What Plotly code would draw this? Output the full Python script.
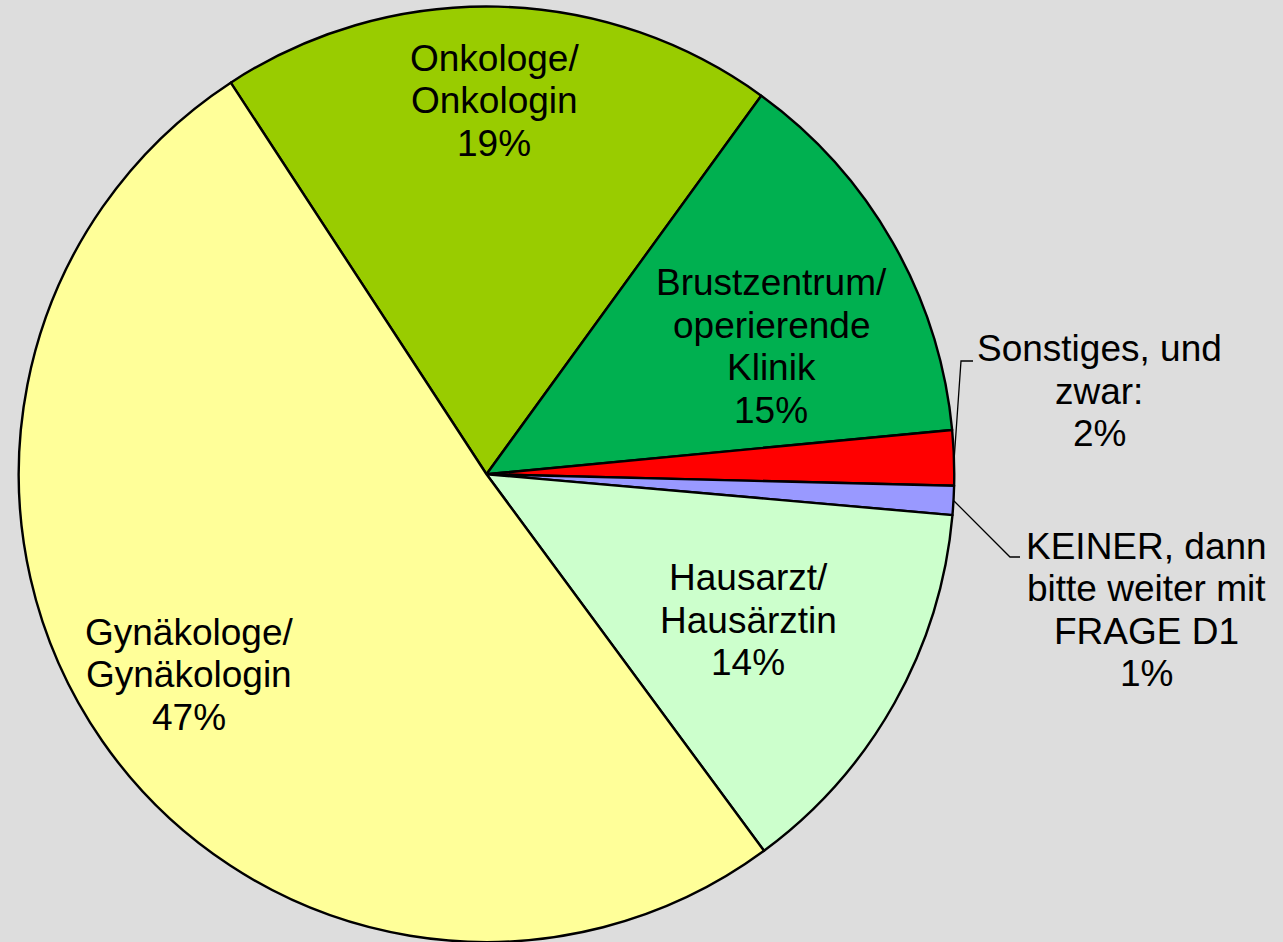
import math
import plotly.graph_objects as go

# ---- data ----
categories = [
    "Onkologe/<br>Onkologin",
    "Brustzentrum/<br>operierende<br>Klinik",
    "Sonstiges, und<br>zwar:",
    "KEINER, dann<br>bitte weiter mit<br>FRAGE D1",
    "Hausarzt/<br>Hausärztin",
    "Gynäkologe/<br>Gynäkologin",
]
# slice sizes as drawn
shares = [19.2, 13.5, 1.9, 1.0, 13.5, 50.9]
# percentages printed on the chart
pct_labels = ["19%", "15%", "2%", "1%", "14%", "47%"]
colors = ["#99CC00", "#00B050", "#FF0000", "#9999FF", "#CCFFCC", "#FFFF99"]

W, H = 1283, 942
CX, CY, R = 486.5, 474.5, 468.0
start_angle = -33.15  # degrees clockwise from 12 o'clock

# label block centres (pixels) and leader-line elbows
label_pos = [(494, 101), (771, 346.5), (1099, 391), (1146, 610), (748, 620), (189, 674.5)]
leader = {2: [(961, 361), (973, 361)], 3: [(1010, 557), (1020, 557)]}
LINE_H = 42.5
FONT = dict(family="Liberation Sans, Arial, sans-serif", size=37, color="black")

fig = go.Figure(go.Pie(
    labels=[c.replace("<br>", " ") for c in categories],
    values=shares,
    sort=False,
    direction="clockwise",
    rotation=start_angle,
    marker=dict(colors=colors, line=dict(color="black", width=2.4)),
    textinfo="none",
    hoverinfo="label+percent",
    showlegend=False,
    domain=dict(x=[(CX - R) / W, (CX + R) / W], y=[0, 1 - (CY - R) / H]),
))

def px(x, y):
    return x / W, 1 - y / H

annotations = []
for i, (cat, pct) in enumerate(zip(categories, pct_labels)):
    lines = cat.split("<br>") + [pct]
    cx, cy = label_pos[i]
    n = len(lines)
    for j, ln in enumerate(lines):
        y = cy + (j - (n - 1) / 2) * LINE_H
        xx, yy = px(cx, y)
        annotations.append(dict(x=xx, y=yy, xref="paper", yref="paper", text=ln,
                                showarrow=False, xanchor="center", yanchor="middle",
                                font=FONT))

# leader lines starting at the slice mid-angle on the rim
shapes = []
total = sum(shares)
acc = start_angle
mids = []
for v in shares:
    span = v / total * 360
    mids.append(acc + span / 2)
    acc += span
for i, pts in leader.items():
    a = math.radians(mids[i])
    x0, y0 = CX + R * math.sin(a), CY - R * math.cos(a)
    path_pts = [(x0, y0)] + pts
    d = "M " + " L ".join(f"{px(x, y)[0]},{px(x, y)[1]}" for x, y in path_pts)
    shapes.append(dict(type="path", xref="paper", yref="paper", path=d,
                       line=dict(color="black", width=1.3)))

fig.update_layout(
    width=W, height=H,
    margin=dict(l=0, r=0, t=0, b=0),
    paper_bgcolor="#DDDDDD",
    plot_bgcolor="#DDDDDD",
    annotations=annotations,
    shapes=shapes,
)
fig.write_html(
    "out.html",
    config={"displayModeBar": False},
    post_script="document.body.style.margin='0';document.body.style.overflow='hidden';"
                "document.body.style.background='#DDDDDD';",
)
